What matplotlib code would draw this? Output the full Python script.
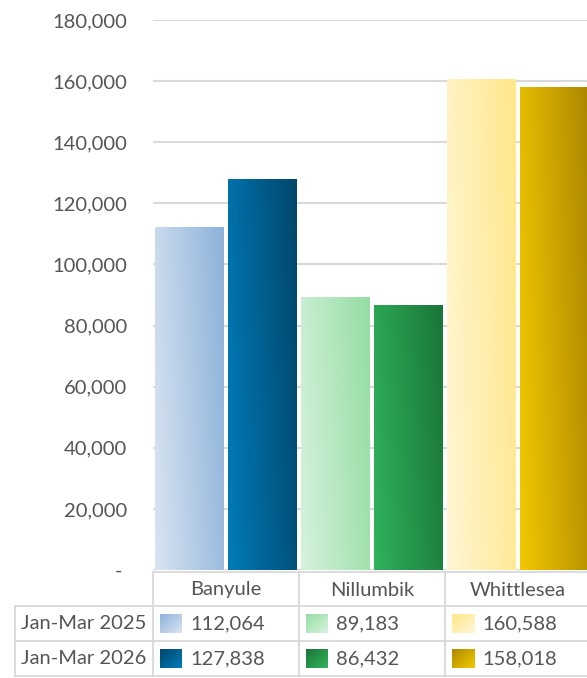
import matplotlib.pyplot as plt
import numpy as np
from matplotlib.colors import LinearSegmentedColormap
from matplotlib.lines import Line2D
from matplotlib.ticker import FuncFormatter

plt.rcParams['font.family'] = ['Lato', 'DejaVu Sans']

categories = ['Banyule', 'Nillumbik', 'Whittlesea']
series_names = ['Jan-Mar 2025', 'Jan-Mar 2026']
values_2025 = [112064, 89183, 160588]
values_2026 = [127838, 86432, 158018]

# (light end, dark end) for each bar gradient
colors_2025 = [('#d8e4f1', '#8db2da'), ('#d6f2dc', '#95dda4'), ('#fff6d4', '#ffe78a')]
colors_2026 = [('#007bb8', '#00476c'), ('#30b25c', '#1a7638'), ('#f2c800', '#ad8800')]

W, H = 587, 678
text_color = '#555555'
line_color = '#d9d9d9'
fs = 14.5

fig = plt.figure(figsize=(W / 100, H / 100), dpi=100)


def fx(x):
    return x / W


def fy(y):
    return 1 - y / H


# plot area: left edge at 153px, three categories of 146px, zero at 570px, 180k at 20px
ax_left, cat_w = 153, 146
ax = fig.add_axes([fx(ax_left), fy(570), 3 * cat_w / W, (570 - 20) / H])
for s in ax.spines.values():
    s.set_visible(False)
ax.set_xticks([])
ax.set_yticks(np.arange(0, 180001, 20000))
ax.yaxis.set_major_formatter(FuncFormatter(lambda v, p: '- ' if v == 0 else f'{int(v):,}'))
ax.tick_params(axis='y', length=0, pad=18.5, labelsize=fs, labelcolor=text_color)
ax.grid(axis='y', color=line_color, linewidth=1.5)
ax.set_axisbelow(True)

inset = 2 / cat_w


def gradient_bar(x0, x1, top, c_light, c_dark):
    cmap = LinearSegmentedColormap.from_list('g', [c_light, c_dark])
    gx, gy = np.meshgrid(np.linspace(0, 1, 64), np.linspace(0, 1, 64))
    grad = 0.8 * gx + 0.2 * gy
    ax.imshow(grad, extent=(x0, x1, 0, top), origin='lower', cmap=cmap,
              aspect='auto', interpolation='bicubic', zorder=2)


for i in range(len(categories)):
    gradient_bar(i - 0.5 + inset, i - inset, values_2025[i], *colors_2025[i])
    gradient_bar(i + inset, i + 0.5 - inset, values_2026[i], *colors_2026[i])

ax.set_xlim(-0.5, 2.5)
ax.set_ylim(0, 180000)

# data table under the plot
row_tops = [572, 606, 641, 676]
col_edges = [ax_left + k * cat_w for k in range(4)]
lw = 1.3
fig.add_artist(Line2D([fx(ax_left), 1], [fy(572), fy(572)], color=line_color, lw=lw))
for y in row_tops[1:]:
    fig.add_artist(Line2D([fx(15), 1], [fy(y), fy(y)], color=line_color, lw=lw))
fig.add_artist(Line2D([fx(15), fx(15)], [fy(606), fy(676)], color=line_color, lw=lw))
for x in col_edges:
    fig.add_artist(Line2D([fx(x), fx(x)], [fy(572), fy(676)], color=line_color, lw=lw))

for k, name in enumerate(categories):
    fig.text(fx(col_edges[k] + cat_w / 2), fy(590), name, ha='center', va='center',
             fontsize=fs, color=text_color)

table_rows = [(series_names[0], values_2025, colors_2025),
              (series_names[1], values_2026, colors_2026)]
for r, (label, vals, cols) in enumerate(table_rows):
    yc = (row_tops[r + 1] + row_tops[r + 2]) / 2
    fig.text(fx(84), fy(yc), label, ha='center', va='center', fontsize=fs, color=text_color)
    for k, v in enumerate(vals):
        kx = col_edges[k] + 7
        kax = fig.add_axes([fx(kx), fy(yc + 10), 22 / W, 20 / H])
        cmap = LinearSegmentedColormap.from_list('k', [cols[k][1], cols[k][0]])
        gx, gy = np.meshgrid(np.linspace(0, 1, 16), np.linspace(1, 0, 16))
        kax.imshow(0.5 * gx + 0.5 * (1 - gy), cmap=cmap, aspect='auto', interpolation='bicubic')
        kax.axis('off')
        fig.text(fx(kx + 30), fy(yc), f'{v:,}', ha='left', va='center',
                 fontsize=fs, color=text_color)

fig.savefig('out.png', dpi=100)
